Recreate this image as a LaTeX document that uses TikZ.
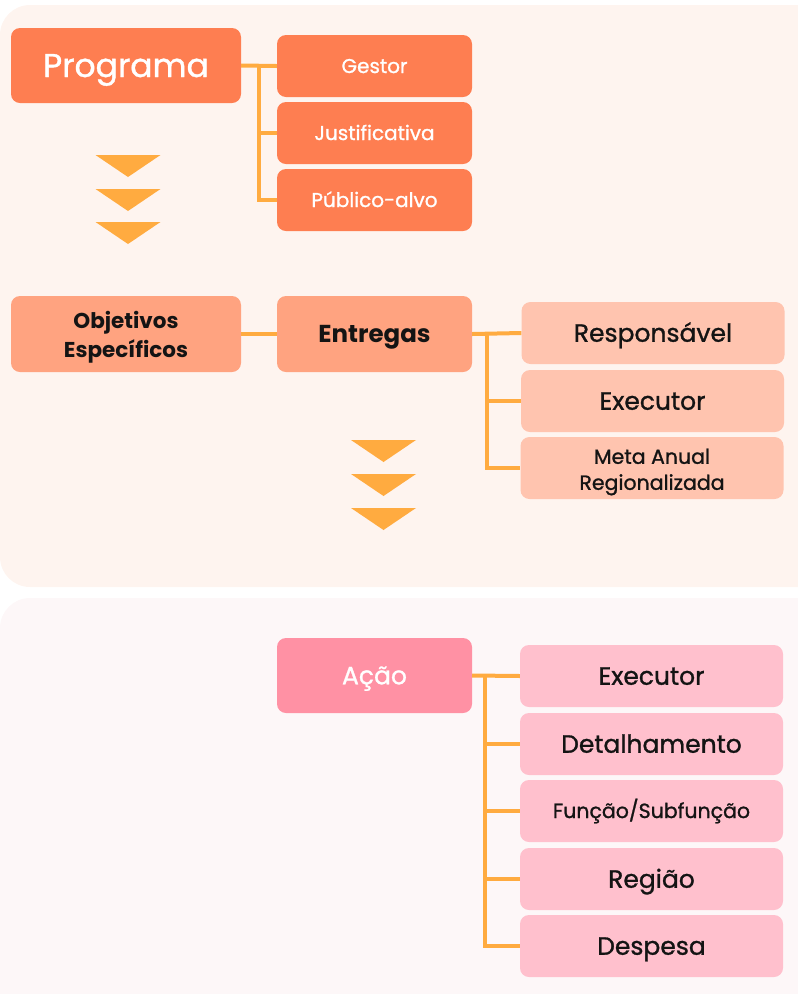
\documentclass[tikz,border=0pt]{standalone}
\usepackage{fontspec}
\setmainfont{Poppins}
\newfontfamily\med{Poppins}[RawFeature={embolden=1.1}]
\usepackage{tikz}
\definecolor{panelA}{HTML}{FEF4EF}
\definecolor{panelB}{HTML}{FDF7F8}
\definecolor{coral}{HTML}{FE7E51}
\definecolor{salmon}{HTML}{FFA380}
\definecolor{peach}{HTML}{FFC4AF}
\definecolor{rosa}{HTML}{FF91A4}
\definecolor{pinkish}{HTML}{FFC0CD}
\definecolor{laranja}{HTML}{FFAB40}
\newcommand{\fs}[2]{\fontsize{#1}{#2}\selectfont}
\newcommand{\chev}[2]{\fill[laranja] (#1-32.5,#2) -- (#1+32.5,#2) -- (#1,#2+22) -- cycle;}

\begin{document}
\begin{tikzpicture}[x=1pt,y=-1pt,
  box/.style={rounded corners=9pt, inner sep=0pt, align=center, text=black!92},
  big/.style={box, minimum width=230pt, minimum height=75pt},
  mid/.style={box, minimum width=195pt, minimum height=62pt},
  tall/.style={box, minimum width=195pt, minimum height=75pt},
  wide/.style={box, minimum width=263pt, minimum height=62pt},
  huge/.style={font=\med\fs{33}{38}, text height=23pt, text depth=0pt},
  small/.style={font=\med\fs{20}{24}, text height=14pt, text depth=0pt},
  large/.style={font=\med\fs{25}{30}, text height=17.5pt, text depth=0pt},
  twoline/.style={font=\med\fs{20.5}{26}, align=center, text=black!92, yshift=-4pt},
  boldtwo/.style={font=\bfseries\fs{21.5}{29}, align=center, text=black!92, yshift=-3pt},
  link/.style={laranja, line width=4pt}]
  \useasboundingbox (0,0) rectangle (798,994);
  \clip (0,0) rectangle (798,994);
  \fill[panelA, rounded corners=30pt] (0,5) rectangle (830,587);
  \fill[panelB, rounded corners=30pt] (0,598) rectangle (830,1030);

  \node[big, huge, fill=coral, text=white] (prog) at (126,65.5) {Programa};
  \node[mid, small, fill=coral, text=white] (gestor) at (374.5,66) {Gestor};
  \node[mid, small, fill=coral, text=white] (justif) at (374.5,133) {Justificativa};
  \node[mid, small, fill=coral, text=white] (publico) at (374.5,200) {Público-alvo};

  \node[big, fill=salmon, minimum height=76pt, label={[boldtwo]center:{Objetivos\\Específicos}}] (obj) at (126,334) {};
  \node[tall, fill=salmon, minimum height=76pt, font=\bfseries\fs{24.5}{29}, text height=17pt, text depth=0pt] (entregas) at (374.5,334) {Entregas};
  \node[wide, large, fill=peach] (resp) at (653,333) {Responsável};
  \node[wide, large, fill=peach] (exec) at (652.5,401) {Executor};
  \node[wide, fill=peach, label={[twoline]center:{Meta Anual\\Regionalizada}}] (meta) at (652,468) {};

  \node[tall, large, fill=rosa, text=white] (acao) at (374.5,675.5) {Ação};
  \node[wide, large, fill=pinkish] (execB) at (651.5,676) {Executor};
  \node[wide, large, fill=pinkish] (detal) at (651.5,744) {Detalhamento};
  \node[wide, fill=pinkish, font=\med\fs{20.5}{26}, text height=14pt, text depth=0pt] (funcao) at (651.5,811) {Função/Subfunção};
  \node[wide, large, fill=pinkish] (regiao) at (651.5,879) {Região};
  \node[wide, large, fill=pinkish] (despesa) at (651.5,946) {Despesa};

  \coordinate (t1) at (259,0);
  \coordinate (t2) at (487,0);
  \coordinate (t3) at (485,0);

  \draw[link] (prog.east) -- (gestor.west);
  \draw[link] (prog.east -| t1) |- (justif.west);
  \draw[link] (prog.east -| t1) |- (publico.west);

  \draw[link] (obj.east) -- (entregas.west);
  \draw[link] (entregas.east) -- (resp.west);
  \draw[link] (entregas.east -| t2) |- (exec.west);
  \draw[link] (entregas.east -| t2) |- (meta.west);

  \draw[link] (acao.east) -- (execB.west);
  \foreach \n in {detal,funcao,regiao,despesa}
    \draw[link] (acao.east -| t3) |- (\n.west);

  \foreach \y in {155,189,222} {\chev{128}{\y}}
  \foreach \y in {440,474,508} {\chev{383.5}{\y}}
\end{tikzpicture}
\end{document}
